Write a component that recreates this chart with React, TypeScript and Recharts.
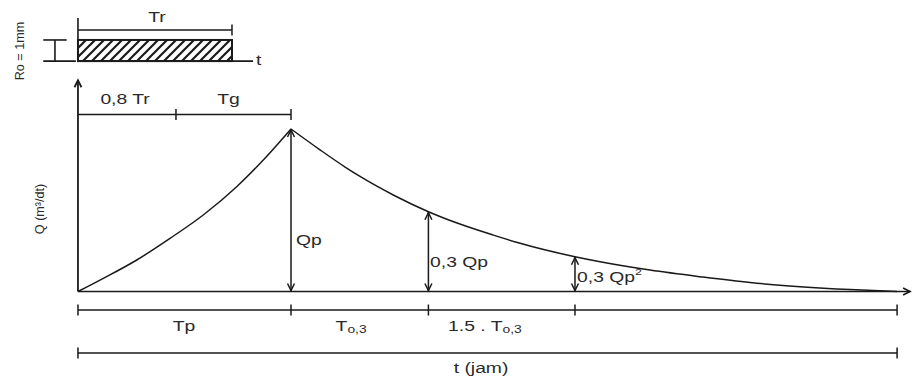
import React from "react";
import {
  ComposedChart,
  Line,
  XAxis,
  YAxis,
  ReferenceLine,
  ReferenceDot,
  ReferenceArea,
} from "recharts";

// ── Frame ─────────────────────────────────────────────────────────────────────
// t is scaled so that Tp = 10, Q is expressed as a fraction of Qp.
const X_MIN = -3.66;
const X_MAX = 39.15;
const Y_MIN = -0.52;
const Y_MAX = 1.794;

// ── Data ──────────────────────────────────────────────────────────────────────

// rising limb (0 → Tp)
const risingT = [0, 1.19, 2.76, 4.32, 5.88, 7.45, 8.7, 10];
const risingQ = [0, 0.081, 0.194, 0.327, 0.471, 0.645, 0.809, 1];

// recession limb (Tp → end)
const fallingT = [10, 11.36, 12.54, 13.24, 14.8, 16.45, 17.93, 19.5, 20.67, 23.33, 24.51, 26.85, 29.2, 31.55, 33.9, 36.24, 38.45];
const fallingQ = [1, 0.872, 0.766, 0.708, 0.594, 0.491, 0.415, 0.347, 0.3, 0.214, 0.183, 0.132, 0.091, 0.055, 0.03, 0.012, 0];

// marks on the time axis: start, Tp, T0,3 end, 1.5 T0,3 end, end of hydrograph
const keyTimes = [0, 10, 16.45, 23.33, 38.45];
// discharge at the arrows (Qp, 0,3 Qp, 0,3 Qp²)
const arrowTimes = [10, 16.45, 23.33];
const arrowQ = [1, 0.491, 0.214];

// rainfall block (Ro = 1 mm over Tr)
const TR = 7.23;
const RAIN_BASE = 1.418;
const RAIN_TOP = 1.548;
const TG_START = 4.6; // split between 0,8 Tr and Tg

const Q_AXIS_TOP = 1.3;
const T_AXIS_END = 39.06;

const rising = risingT.map((t, i) => ({ t, q: risingQ[i] }));
const falling = fallingT.map((t, i) => ({ t, q: fallingQ[i] }));

// ── Drawing helpers ───────────────────────────────────────────────────────────

const INK = "#1a1a1a";
const FONT = "'Liberation Sans', Arial, sans-serif";

const plain = (p: any) => (
  <line x1={p.x1} y1={p.y1} x2={p.x2} y2={p.y2} stroke={INK} strokeWidth={1.6} />
);

// horizontal dimension line, ticks at the given ends
const dim = (left: boolean, right: boolean) => (p: any) => (
  <g stroke={INK} strokeWidth={1.5}>
    <line x1={p.x1} y1={p.y1} x2={p.x2} y2={p.y2} />
    {left && <line x1={p.x1} x2={p.x1} y1={p.y1 - 5.5} y2={p.y1 + 5.5} />}
    {right && <line x1={p.x2} x2={p.x2} y1={p.y2 - 5.5} y2={p.y2 + 5.5} />}
  </g>
);

const tick = (p: any) => (
  <line x1={p.cx} x2={p.cx} y1={p.cy - 5.5} y2={p.cy + 5.5} stroke={INK} strokeWidth={1.5} />
);

const headUp = (x: number, y: number) => `M${x - 3.5},${y + 7} L${x},${y} L${x + 3.5},${y + 7}`;
const headDown = (x: number, y: number) => `M${x - 3.5},${y - 7} L${x},${y} L${x + 3.5},${y - 7}`;
const headRight = (x: number, y: number) => `M${x - 7},${y - 3.5} L${x},${y} L${x - 7},${y + 3.5}`;

const doubleArrow = (p: any) => {
  const top = Math.min(p.y1, p.y2);
  const bot = Math.max(p.y1, p.y2);
  return (
    <g stroke={INK} strokeWidth={1.5} fill="none">
      <line x1={p.x1} x2={p.x1} y1={top} y2={bot} />
      <path d={headUp(p.x1, top + 1)} />
      <path d={headDown(p.x1, bot - 1)} />
    </g>
  );
};

const axisUp = (p: any) => {
  const top = Math.min(p.y1, p.y2);
  return (
    <g stroke={INK} strokeWidth={1.8} fill="none">
      <line x1={p.x1} y1={p.y1} x2={p.x2} y2={p.y2} />
      <path d={headUp(p.x1, top)} />
    </g>
  );
};

const axisRight = (p: any) => (
  <g stroke={INK} strokeWidth={1.6} fill="none">
    <line x1={p.x1} y1={p.y1} x2={p.x2} y2={p.y2} />
    <path d={headRight(Math.max(p.x1, p.x2), p.y1)} />
  </g>
);

const hatched = (p: any) => (
  <g>
    <defs>
      <pattern id="rain-hatch" patternUnits="userSpaceOnUse" width={9} height={9}>
        <path
          d="M-2,2 L2,-2 M0,9 L9,0 M7,11 L11,7"
          stroke={INK}
          strokeWidth={2.2}
        />
      </pattern>
    </defs>
    <rect
      x={p.x}
      y={p.y}
      width={p.width}
      height={p.height}
      fill="url(#rain-hatch)"
      stroke={INK}
      strokeWidth={2}
    />
  </g>
);

const label =
  (content: React.ReactNode, anchor: "start" | "middle" = "middle", rotated = false) =>
  (p: any) => (
    <text
      transform={
        rotated
          ? `translate(${p.cx},${p.cy}) rotate(-90)`
          : `translate(${p.cx},${p.cy}) scale(1.38,1)`
      }
      textAnchor={anchor}
      dominantBaseline="central"
      fontFamily={FONT}
      fontSize={rotated ? 12.6 : 14}
      fill="#2a2a2a"
    >
      {content}
    </text>
  );

const sub = (s: string) => (
  <tspan fontSize={10} dy={3}>
    {s}
  </tspan>
);

// ── Chart ─────────────────────────────────────────────────────────────────────

export default function App() {
  const [t0, tp, t03, t15, tEnd] = keyTimes;

  return (
    <div style={{ position: "absolute", left: 0, top: 0, width: 912, height: 376, background: "#fff" }}>
      <ComposedChart width={912} height={376} margin={{ top: 0, right: 0, bottom: 0, left: 0 }}>
        <XAxis type="number" dataKey="t" domain={[X_MIN, X_MAX]} allowDataOverflow hide />
        <YAxis type="number" domain={[Y_MIN, Y_MAX]} allowDataOverflow hide />

        {/* rainfall block */}
        <ReferenceArea x1={0} x2={TR} y1={RAIN_BASE} y2={RAIN_TOP} ifOverflow="visible" shape={hatched} />
        <ReferenceLine segment={[{ x: 0, y: 1.412 }, { x: 0, y: 1.683 }]} ifOverflow="visible" shape={plain} />
        <ReferenceLine segment={[{ x: 0, y: RAIN_BASE }, { x: 8.22, y: RAIN_BASE }]} ifOverflow="visible" shape={plain} />
        <ReferenceLine segment={[{ x: 0, y: 1.609 }, { x: TR, y: 1.609 }]} ifOverflow="visible" shape={dim(false, true)} />
        <ReferenceLine segment={[{ x: -1.08, y: RAIN_BASE }, { x: -1.08, y: RAIN_TOP }]} ifOverflow="visible" shape={plain} />
        <ReferenceLine segment={[{ x: -1.63, y: RAIN_TOP }, { x: -0.53, y: RAIN_TOP }]} ifOverflow="visible" shape={plain} />
        <ReferenceLine segment={[{ x: -1.63, y: RAIN_BASE }, { x: -0.1, y: RAIN_BASE }]} ifOverflow="visible" shape={plain} />
        <ReferenceDot x={3.71} y={1.686} ifOverflow="visible" shape={label("Tr")} />
        <ReferenceDot x={8.36} y={1.422} ifOverflow="visible" shape={label("t", "start")} />
        <ReferenceDot x={-2.72} y={1.48} ifOverflow="visible" shape={label("Ro = 1mm", "middle", true)} />

        {/* axes */}
        <ReferenceLine segment={[{ x: 0, y: 0 }, { x: 0, y: Q_AXIS_TOP }]} ifOverflow="visible" shape={axisUp} />
        <ReferenceLine segment={[{ x: 0, y: 0 }, { x: T_AXIS_END, y: 0 }]} ifOverflow="visible" shape={axisRight} />
        <ReferenceDot x={-1.78} y={0.508} ifOverflow="visible" shape={label("Q (m³/dt)", "middle", true)} />

        {/* 0,8 Tr / Tg */}
        <ReferenceLine segment={[{ x: 0, y: 1.089 }, { x: tp, y: 1.089 }]} ifOverflow="visible" shape={dim(false, true)} />
        <ReferenceDot x={TG_START} y={1.089} ifOverflow="visible" shape={tick} />
        <ReferenceDot x={2.21} y={1.185} ifOverflow="visible" shape={label("0,8 Tr")} />
        <ReferenceDot x={7.07} y={1.185} ifOverflow="visible" shape={label("Tg")} />

        {/* hydrograph */}
        <Line
          data={rising}
          dataKey="q"
          type="monotone"
          dot={false}
          activeDot={false}
          stroke={INK}
          strokeWidth={1.5}
          isAnimationActive={false}
        />
        <Line
          data={falling}
          dataKey="q"
          type="monotone"
          dot={false}
          activeDot={false}
          stroke={INK}
          strokeWidth={1.5}
          isAnimationActive={false}
        />

        {/* discharge arrows */}
        {arrowTimes.map((t, i) => (
          <ReferenceLine
            key={`arrow-${i}`}
            segment={[{ x: t, y: 0 }, { x: t, y: arrowQ[i] }]}
            ifOverflow="visible"
            shape={doubleArrow}
          />
        ))}
        <ReferenceDot x={10.23} y={0.317} ifOverflow="visible" shape={label("Qp", "start")} />
        <ReferenceDot x={16.53} y={0.18} ifOverflow="visible" shape={label("0,3 Qp", "start")} />
        <ReferenceDot
          x={23.43}
          y={0.089}
          ifOverflow="visible"
          shape={label(
            <>
              0,3 Qp
              <tspan fontSize={9} dy={-5}>
                2
              </tspan>
            </>,
            "start",
          )}
        />

        {/* time dimension lines */}
        <ReferenceLine segment={[{ x: t0, y: -0.114 }, { x: tEnd, y: -0.114 }]} ifOverflow="visible" shape={dim(true, true)} />
        {[tp, t03, t15].map((t) => (
          <ReferenceDot key={`tick-${t}`} x={t} y={-0.114} ifOverflow="visible" shape={tick} />
        ))}
        <ReferenceDot x={4.98} y={-0.218} ifOverflow="visible" shape={label("Tp")} />
        <ReferenceDot x={12.82} y={-0.218} ifOverflow="visible" shape={label(<>T{sub("o,3")}</>)} />
        <ReferenceDot x={19.1} y={-0.218} ifOverflow="visible" shape={label(<>1.5 . T{sub("o,3")}</>)} />

        <ReferenceLine segment={[{ x: t0, y: -0.378 }, { x: tEnd, y: -0.378 }]} ifOverflow="visible" shape={dim(true, true)} />
        <ReferenceDot x={18.92} y={-0.471} ifOverflow="visible" shape={label("t (jam)")} />
      </ComposedChart>
    </div>
  );
}
